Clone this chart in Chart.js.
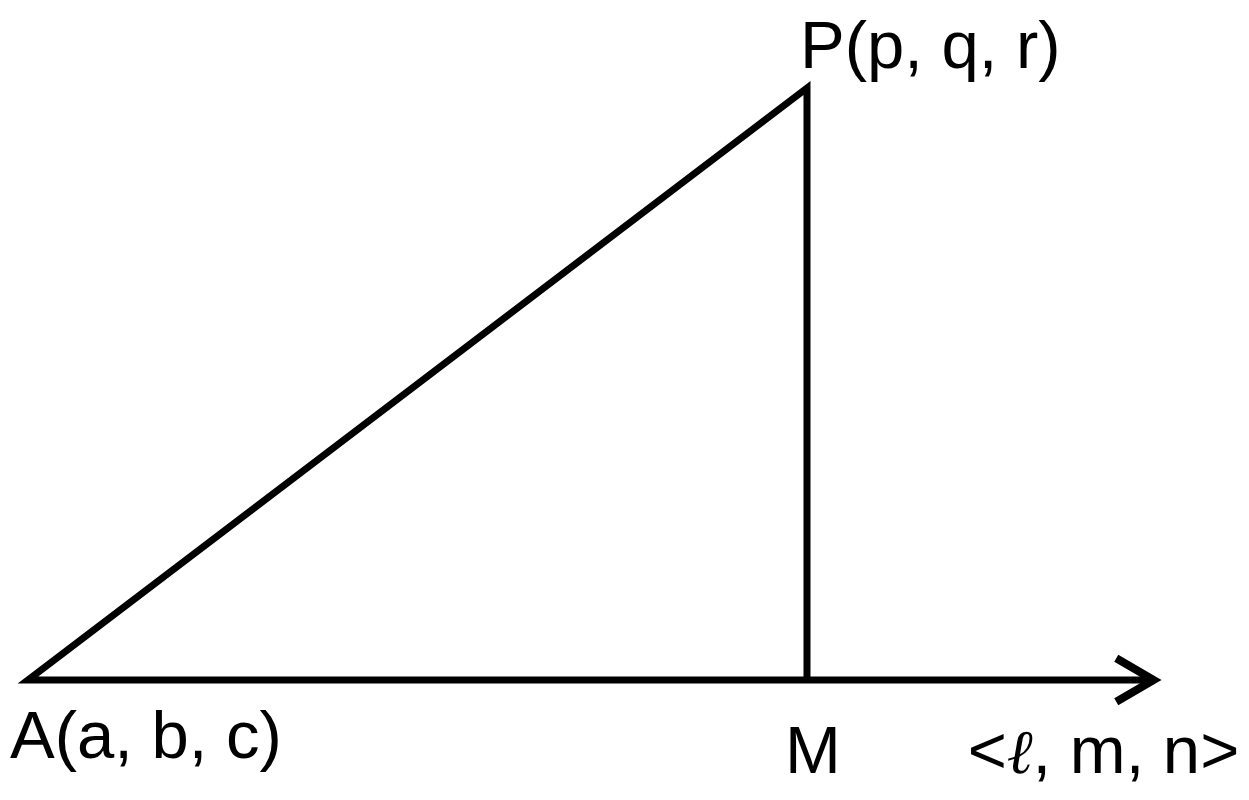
<!DOCTYPE html>
<html>
<head>
<meta charset="utf-8">
<script src="https://cdn.jsdelivr.net/npm/chart.js@4"></script>
<style>
html,body{margin:0;padding:0;background:#fff;}
#wrap{width:1249px;height:800px;position:relative;}
</style>
</head>
<body>
<div id="wrap"><canvas id="c" width="1249" height="800"></canvas></div>
<script>
// Points of the diagram (data units)
const pointNames = ['A', 'M', 'P', 'T'];
const pointX = [0, 10, 10, 14.45];
const pointY = [0, 0, 7.6, 0];
// Arrow-head arms around the tip T
const arrowX = [13.97, 14.45, 13.97];
const arrowY = [0.28, 0, -0.28];
// Labels
const labelTexts = ['A(a, b, c)', 'P(p, q, r)', 'M', '<ℓ, m, n>'];
const labelAnchors = ['A', 'P', 'M', 'T'];

function pt(name) {
  const i = pointNames.indexOf(name);
  return { x: pointX[i], y: pointY[i] };
}

const outline = ['M', 'P', 'A', 'T'].map(pt);
const arrowHead = arrowX.map((x, i) => ({ x: x, y: arrowY[i] }));

const labelOffsets = [[-18, 78], [-7, -20], [-22, 93], [-186, 93]];

const labelPlugin = {
  id: 'labels',
  afterDatasetsDraw(chart) {
    const ctx = chart.ctx;
    const xs = chart.scales.x, ys = chart.scales.y;
    ctx.save();
    ctx.fillStyle = '#000';
    ctx.textBaseline = 'alphabetic';
    ctx.textAlign = 'left';
    const sans = '67px "Liberation Sans", Arial, sans-serif';
    const script = 'italic 62px "DejaVu Serif", serif';
    labelTexts.forEach((txt, i) => {
      const p = pt(labelAnchors[i]);
      let x = xs.getPixelForValue(p.x) + labelOffsets[i][0];
      const y = ys.getPixelForValue(p.y) + labelOffsets[i][1];
      const parts = txt.split(/(ℓ)/);
      parts.forEach(part => {
        if (!part) return;
        ctx.font = part === 'ℓ' ? script : sans;
        ctx.fillText(part, x, y);
        x += ctx.measureText(part).width;
      });
    });
    ctx.restore();
  }
};

new Chart(document.getElementById('c'), {
  type: 'scatter',
  data: {
    datasets: [
      {
        data: outline,
        showLine: true,
        borderColor: '#000',
        borderWidth: 7,
        borderJoinStyle: 'miter',
        borderCapStyle: 'butt',
        pointRadius: 0,
        fill: false,
        tension: 0
      },
      {
        data: arrowHead,
        showLine: true,
        borderColor: '#000',
        borderWidth: 8,
        borderJoinStyle: 'miter',
        borderCapStyle: 'butt',
        pointRadius: 0,
        fill: false,
        tension: 0
      }
    ]
  },
  options: {
    responsive: false,
    animation: false,
    devicePixelRatio: 1,
    layout: { padding: 0 },
    plugins: { legend: { display: false }, tooltip: { enabled: false } },
    scales: {
      x: { type: 'linear', display: false, min: -0.3594, max: 15.674 },
      y: { type: 'linear', display: false, min: -1.5404, max: 8.7291 }
    }
  },
  plugins: [labelPlugin]
});
</script>
</body>
</html>
